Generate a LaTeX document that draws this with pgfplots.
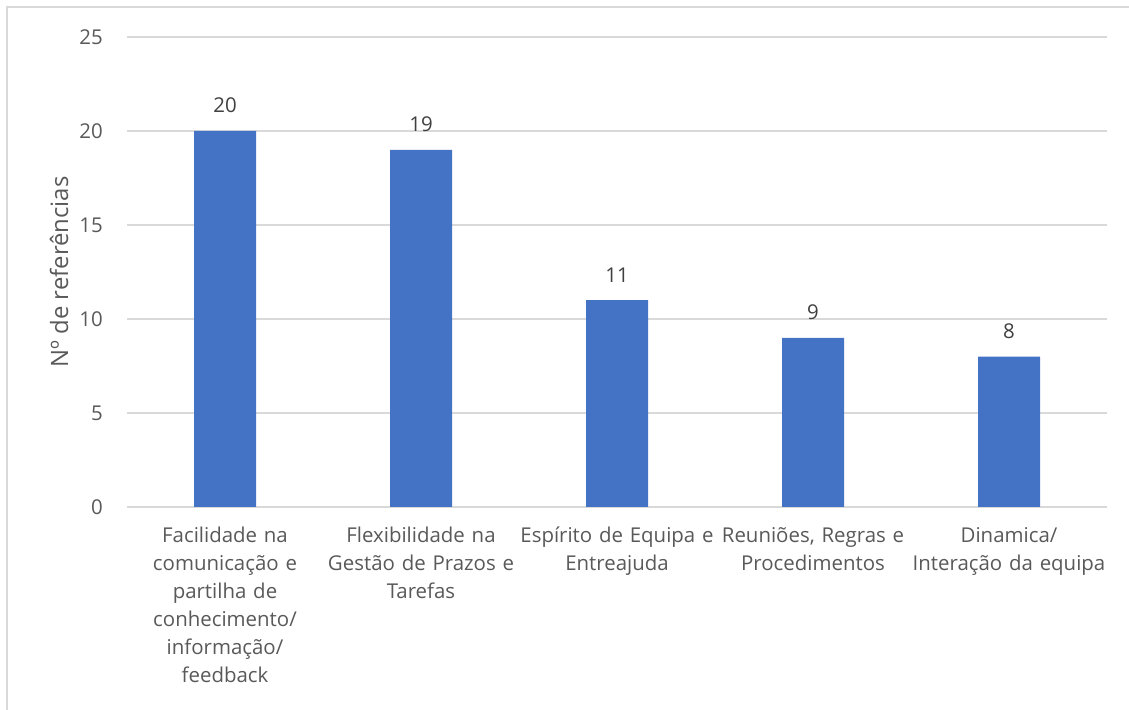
\documentclass[border=0pt]{standalone}
\usepackage{fontspec}
\setmainfont{Open Sans}
\usepackage{pgfplots}
\pgfplotsset{compat=1.18}
\definecolor{barblue}{HTML}{4472C4}
\definecolor{gridgray}{HTML}{D9D9D9}
\definecolor{txtgray}{HTML}{595959}
\definecolor{lblgray}{HTML}{404040}
\begin{document}
\begin{tikzpicture}[x=1bp,y=1bp]
\useasboundingbox (0,0) rectangle (1129,710);
\draw[gridgray, line width=1.5bp] (7,0) -- (7,703) -- (1129,703);
\begin{axis}[
  at={(127bp,203bp)}, anchor=south west,
  scale only axis, width=980bp, height=470bp,
  xmin=-0.5, xmax=4.5, ymin=0, ymax=25,
  axis line style={draw=none},
  ymajorgrids, grid style={gridgray, line width=1.5bp},
  major tick length=0pt,
  ytick={0,5,10,15,20,25},
  yticklabel style={anchor=east, inner sep=0pt, xshift=-24bp, font=\fontsize{20.5}{24}\selectfont, color=txtgray},
  /pgf/number format/assume math mode=true,
  xtick={0,1,2,3,4},
  xticklabels={{Facilidade na\\comunicação e\\partilha de\\conhecimento/\\informação/\\feedback},
               {Flexibilidade na\\Gestão de Prazos e\\Tarefas},
               {Espírito de Equipa e\\Entreajuda},
               {Reuniões, Regras e\\Procedimentos},
               {Dinamica/\\Interação da equipa}},
  xticklabel style={text width=200bp, align=center, anchor=north, inner sep=0pt, yshift=-20bp, font=\fontsize{20.5}{28}\selectfont, color=txtgray},
  ylabel={Nº de referências},
  ylabel style={at={(axis description cs:-0.0694,0.5)}, anchor=center, font=\fontsize{24}{28}\selectfont, color=txtgray},
  ybar, bar width=62bp,
  nodes near coords,
  nodes near coords style={anchor=base, inner sep=0pt, yshift=18bp, font=\fontsize{20.5}{24}\selectfont, color=lblgray},
]
\addplot[fill=barblue, draw=none] coordinates {(0,20) (1,19) (2,11) (3,9) (4,8)};
\end{axis}
\end{tikzpicture}
\end{document}
